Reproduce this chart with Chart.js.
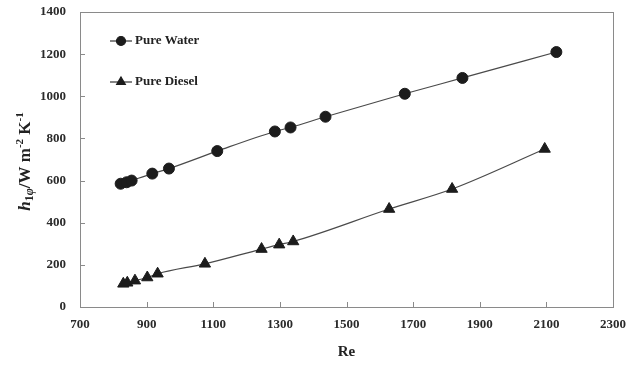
<!DOCTYPE html>
<html>
<head>
<meta charset="utf-8">
<script src="https://cdn.jsdelivr.net/npm/chart.js@4.4.0/dist/chart.umd.min.js"></script>
<style>
    html, body { margin: 0; padding: 0; background: #fff; }
    #wrap { width: 639px; height: 365px; }
</style>
</head>
<body>
<div id="wrap"><canvas id="chart" width="639" height="365"></canvas></div>
<script>
// values
const waterRe = [822, 840, 855, 917, 967, 1112, 1285, 1332, 1437, 1675, 1848, 2130];
const waterH = [585, 592, 600, 633, 657, 740, 833, 852, 903, 1012, 1087, 1210];
const dieselRe = [830, 842, 865, 902, 933, 1075, 1245, 1298, 1340, 1628, 1817, 2095];
const dieselH = [110, 115, 125, 140, 158, 205, 275, 296, 311, 465, 560, 750];
const seriesNames = ["Pure Water", "Pure Diesel"];
const xTicks = [700, 900, 1100, 1300, 1500, 1700, 1900, 2100, 2300];
const yTicks = [0, 200, 400, 600, 800, 1000, 1200, 1400];

const SERIF = "'Liberation Serif', 'Times New Roman', serif";
const INK = "#1c1c1c";

function pairs(xs, ys) {
    return xs.map((x, i) => ({ x: x, y: ys[i] }));
}

// inward tick marks, plot frame, legend and y title
const decorations = {
    id: "decorations",
    afterDraw(chart) {
        const ctx = chart.ctx;
        const area = chart.chartArea;
        const xs = chart.scales.x;
        const ys = chart.scales.y;
        ctx.save();
        ctx.strokeStyle = "#8a8a8a";
        ctx.lineWidth = 1;
        ctx.strokeRect(area.left + 0.5, area.top + 0.5, area.right - area.left, area.bottom - area.top);
        ctx.beginPath();
        xTicks.forEach(v => {
            const px = Math.round(xs.getPixelForValue(v)) + 0.5;
            ctx.moveTo(px, area.bottom);
            ctx.lineTo(px, area.bottom - 5);
        });
        yTicks.forEach(v => {
            const py = Math.round(ys.getPixelForValue(v)) + 0.5;
            ctx.moveTo(area.left, py);
            ctx.lineTo(area.left + 5, py);
        });
        ctx.stroke();

        // legend inside the plot
        const rows = [
            { y: 41, style: "circle", radius: 4.5 },
            { y: 82, style: "triangle", radius: 5 }
        ];
        rows.forEach((row, i) => {
            ctx.strokeStyle = "#333";
            ctx.lineWidth = 1.2;
            ctx.beginPath();
            ctx.moveTo(110, row.y);
            ctx.lineTo(132, row.y);
            ctx.stroke();
            ctx.fillStyle = INK;
            ctx.strokeStyle = INK;
            Chart.helpers.drawPoint(ctx, { pointStyle: row.style, radius: row.radius, borderWidth: 1 }, 121, row.y);
            ctx.fillStyle = "#222";
            ctx.font = "bold 13px " + SERIF;
            ctx.textAlign = "left";
            ctx.textBaseline = "middle";
            ctx.fillText(seriesNames[i], 135, row.y);
        });

        // y title: h_1φ / W m^-2 K^-1
        const parts = [
            { t: "h", f: "italic bold 17px " + SERIF, dy: 0 },
            { t: "1", f: "bold 12px " + SERIF, dy: 4 },
            { t: "φ", f: "italic bold 12px " + SERIF, dy: 4 },
            { t: "/W m", f: "bold 17px " + SERIF, dy: 0 },
            { t: "-2", f: "bold 11px " + SERIF, dy: -6 },
            { t: " K", f: "bold 17px " + SERIF, dy: 0 },
            { t: "-1", f: "bold 11px " + SERIF, dy: -6 }
        ];
        let total = 0;
        parts.forEach(p => { ctx.font = p.f; p.w = ctx.measureText(p.t).width; total += p.w; });
        ctx.translate(26, (area.top + area.bottom) / 2 + 2);
        ctx.rotate(-Math.PI / 2);
        ctx.fillStyle = "#222";
        ctx.textBaseline = "middle";
        ctx.textAlign = "left";
        let cx = -total / 2;
        parts.forEach(p => {
            ctx.font = p.f;
            ctx.fillText(p.t, cx, p.dy);
            cx += p.w;
        });
        ctx.restore();
    }
};

const lineStyle = {
    borderColor: "#4a4a4a",
    borderWidth: 1.2,
    backgroundColor: INK,
    pointBackgroundColor: INK,
    pointBorderColor: INK,
    pointBorderWidth: 1,
    cubicInterpolationMode: "monotone",
    fill: false
};

const tickFont = { family: SERIF, size: 13, weight: "bold" };

new Chart(document.getElementById("chart"), {
    type: "scatter",
    data: {
        datasets: [
            Object.assign({
                label: seriesNames[0],
                data: pairs(waterRe, waterH),
                showLine: true,
                pointStyle: "circle",
                pointRadius: 5.5
            }, lineStyle),
            Object.assign({
                label: seriesNames[1],
                data: pairs(dieselRe, dieselH),
                showLine: true,
                pointStyle: "triangle",
                pointRadius: 6.5
            }, lineStyle)
        ]
    },
    options: {
        responsive: false,
        animation: false,
        events: [],
        layout: { autoPadding: false, padding: { top: 12, right: 26, left: 0, bottom: 0 } },
        plugins: { legend: { display: false }, tooltip: { enabled: false } },
        scales: {
            x: {
                type: "linear",
                min: 700,
                max: 2300,
                afterFit(scale) { scale.height = 58; },
                afterBuildTicks(scale) { scale.ticks = xTicks.map(v => ({ value: v })); },
                grid: { display: false, drawTicks: false },
                border: { display: false },
                ticks: {
                    padding: 10,
                    color: "#2a2a2a",
                    font: tickFont,
                    maxRotation: 0,
                    callback: v => String(v)
                },
                title: {
                    display: true,
                    text: "Re",
                    color: "#222",
                    font: { family: SERIF, size: 15, weight: "bold" },
                    padding: { top: 0, bottom: 4 }
                }
            },
            y: {
                type: "linear",
                min: 0,
                max: 1400,
                afterFit(scale) {
                    // tick padding would otherwise push the plot top down
                    scale.width = 80;
                    scale.paddingTop = 0;
                    scale.paddingBottom = 0;
                },
                afterBuildTicks(scale) { scale.ticks = yTicks.map(v => ({ value: v })); },
                grid: { display: false, drawTicks: false },
                border: { display: false },
                ticks: {
                    padding: 14,
                    color: "#2a2a2a",
                    font: tickFont,
                    callback: v => String(v)
                }
            }
        }
    },
    plugins: [decorations]
});
</script>
</body>
</html>
